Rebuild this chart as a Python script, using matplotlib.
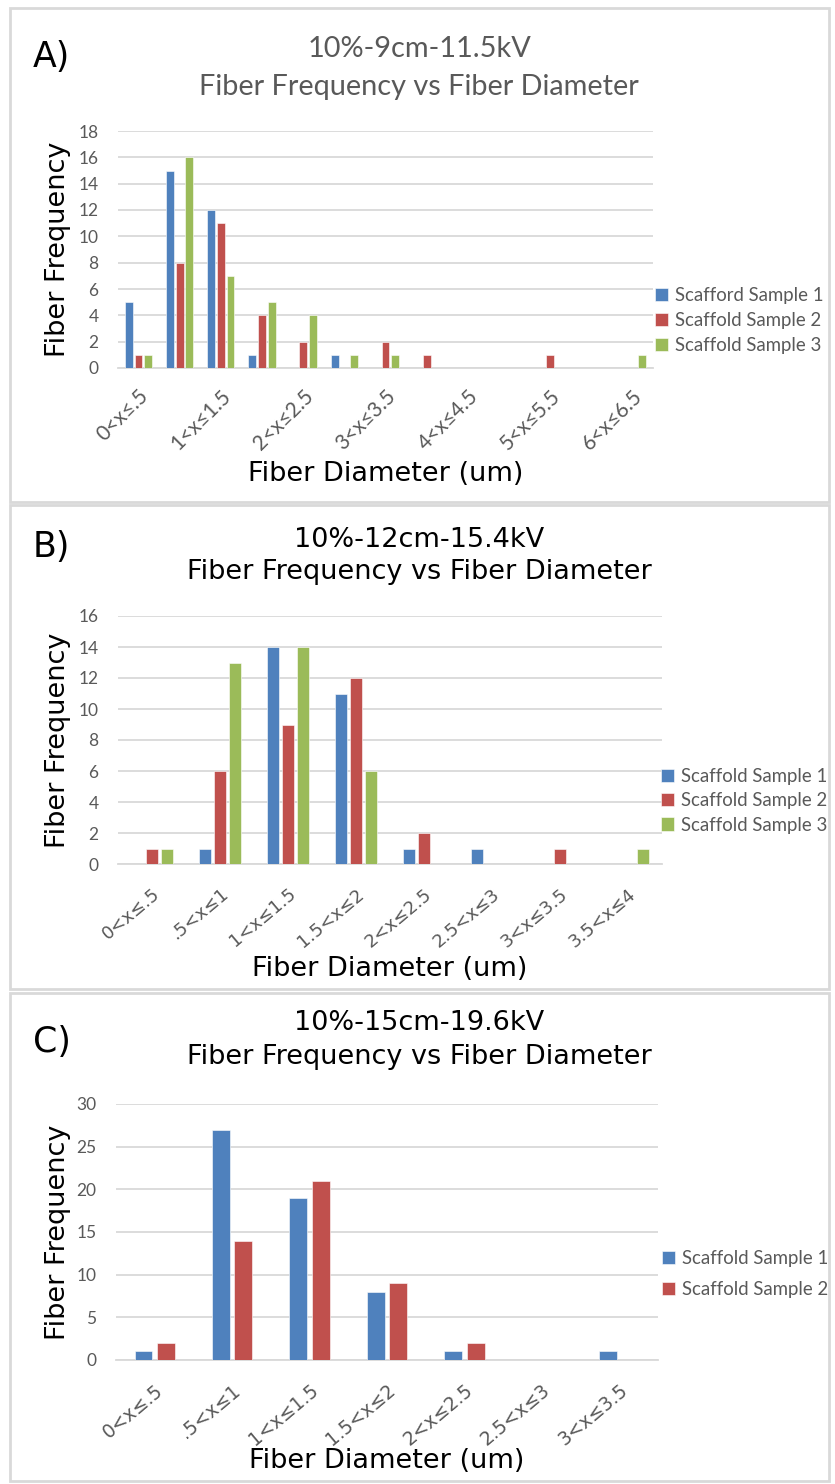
import matplotlib
matplotlib.use("Agg")
import matplotlib.pyplot as plt
from matplotlib.patches import Rectangle
import numpy as np

W, H = 835, 1484
DPI = 100

BLUE = "#4F81BD"
RED = "#C0504D"
GREEN = "#9BBB59"
GRID = "#D9D9D9"
TICK = "#595959"

# ---- Panel A: 10%-9cm-11.5kV ----
cats_a = ["0<x≤.5", ".5<x≤1", "1<x≤1.5", "1.5<x≤2", "2<x≤2.5", "2.5<x≤3",
          "3<x≤3.5", "3.5<x≤4", "4<x≤4.5", "4.5<x≤5", "5<x≤5.5", "5.5<x≤6",
          "6<x≤6.5"]
a_sample1 = [5, 15, 12, 1, 0, 1, 0, 0, 0, 0, 0, 0, 0]
a_sample2 = [1, 8, 11, 4, 2, 0, 2, 1, 0, 0, 1, 0, 0]
a_sample3 = [1, 16, 7, 5, 4, 1, 1, 0, 0, 0, 0, 0, 1]
a_labels = ["Scafford Sample 1", "Scaffold Sample 2", "Scaffold Sample 3"]

# ---- Panel B: 10%-12cm-15.4kV ----
cats_b = ["0<x≤.5", ".5<x≤1", "1<x≤1.5", "1.5<x≤2", "2<x≤2.5", "2.5<x≤3",
          "3<x≤3.5", "3.5<x≤4"]
b_sample1 = [0, 1, 14, 11, 1, 1, 0, 0]
b_sample2 = [1, 6, 9, 12, 2, 0, 1, 0]
b_sample3 = [1, 13, 14, 6, 0, 0, 0, 1]
b_labels = ["Scaffold Sample 1", "Scaffold Sample 2", "Scaffold Sample 3"]

# ---- Panel C: 10%-15cm-19.6kV ----
cats_c = ["0<x≤.5", ".5<x≤1", "1<x≤1.5", "1.5<x≤2", "2<x≤2.5", "2.5<x≤3",
          "3<x≤3.5"]
c_sample1 = [1, 27, 19, 8, 1, 0, 1]
c_sample2 = [2, 14, 21, 9, 2, 0, 0]
c_labels = ["Scaffold Sample 1", "Scaffold Sample 2"]

LATO = ["Lato", "DejaVu Sans"]
DEJAVU = ["DejaVu Sans"]

fig = plt.figure(figsize=(W / DPI, H / DPI), dpi=DPI)
fig.patch.set_facecolor("white")


def fx(px):
    return px / W


def fy(py):
    return 1 - py / H


def frame(x0, y0, x1, y1):
    fig.patches.append(Rectangle((fx(x0), fy(y1)), fx(x1) - fx(x0), fy(y0) - fy(y1),
                                 transform=fig.transFigure, fill=False,
                                 edgecolor=GRID, linewidth=2))


def panel(box, cats, series, colors, labels, ymax, ystep, bar_w, gap,
          tick_step, tick_font, tick_size, tick_rot, tick_pad,
          legend_xy, legend_spacing,
          letter, letter_y, title, title_y, title_color, title_font, title_size,
          xlabel_y, frame_box):
    x0, y0, x1, y1 = box
    ax = fig.add_axes([fx(x0), fy(y1), fx(x1) - fx(x0), fy(y0) - fy(y1)])
    n = len(cats)
    k = len(series)
    x = np.arange(n)
    for i, (vals, col, lab) in enumerate(zip(series, colors, labels)):
        off = (i - (k - 1) / 2) * (bar_w + gap)
        ax.bar(x + off, vals, width=bar_w, color=col, label=lab, zorder=3,
               edgecolor="white", linewidth=0.4)
    ax.set_xlim(-0.5, n - 0.5)
    ax.set_ylim(0, ymax)
    ax.set_yticks(np.arange(0, ymax + 0.1, ystep))
    ax.yaxis.grid(True, color=GRID, linewidth=1.3, zorder=0)
    ax.set_axisbelow(True)
    for s in ["top", "right", "left"]:
        ax.spines[s].set_visible(False)
    ax.spines["bottom"].set_color(GRID)
    ax.spines["bottom"].set_linewidth(1.3)
    ax.tick_params(axis="both", length=0)
    ax.tick_params(axis="y", pad=14)
    for t in ax.get_yticklabels():
        t.set_fontfamily(LATO)
        t.set_fontsize(12.5)
        t.set_color(TICK)
    ax.set_xticks(x[::tick_step])
    ax.set_xticklabels([cats[j] for j in range(0, n, tick_step)],
                       rotation=tick_rot, ha="right", rotation_mode="anchor",
                       fontsize=tick_size, color=TICK, family=tick_font)
    ax.tick_params(axis="x", pad=tick_pad)

    leg = ax.legend(loc="upper left", bbox_to_anchor=(fx(legend_xy[0]), fy(legend_xy[1])),
                    bbox_transform=fig.transFigure, frameon=False,
                    handlelength=0.7, handleheight=0.7, handletextpad=0.35,
                    labelspacing=legend_spacing, borderpad=0, borderaxespad=0,
                    prop={"family": LATO, "size": 13.4})
    for t in leg.get_texts():
        t.set_color(TICK)

    fig.text(fx(33), fy(letter_y), letter, fontsize=25, family=DEJAVU,
             color="black", ha="left", va="center")
    fig.text(fx(419), fy(title_y[0]), title[0], fontsize=title_size,
             family=title_font, color=title_color, ha="center", va="center")
    fig.text(fx(419), fy(title_y[1]), title[1], fontsize=title_size,
             family=title_font, color=title_color, ha="center", va="center")
    fig.text(fx(58), fy((y0 + y1) / 2), "Fiber Frequency", fontsize=19.5,
             family=DEJAVU, rotation=90, ha="center", va="center", color="black")
    fig.text(fx((x0 + x1) / 2), fy(xlabel_y), "Fiber Diameter (um)", fontsize=19.5,
             family=DEJAVU, ha="center", va="center", color="black")
    frame(*frame_box)
    return ax


panel((118, 131, 653, 368), cats_a, [a_sample1, a_sample2, a_sample3],
      [BLUE, RED, GREEN], a_labels, 18, 2, 0.19, 0.045, 2, LATO, 15, 45, 13,
      (655, 287), 0.42, "A)", 57,
      ("10%-9cm-11.5kV", "Fiber Frequency vs Fiber Diameter"), (49, 87),
      TICK, LATO, 20.8, 474, (10, 8, 829, 502))

panel((118, 616, 662, 864), cats_b, [b_sample1, b_sample2, b_sample3],
      [BLUE, RED, GREEN], b_labels, 16, 2, 0.18, 0.045, 1, DEJAVU, 13, 40, 15,
      (661, 768), 0.39, "B)", 547,
      ("10%-12cm-15.4kV", "Fiber Frequency vs Fiber Diameter"), (540, 572),
      "black", DEJAVU, 19.5, 969, (10, 505, 829, 989))

panel((116, 1104, 658, 1360), cats_c, [c_sample1, c_sample2],
      [BLUE, RED], c_labels, 30, 5, 0.23, 0.06, 1, DEJAVU, 13.5, 40, 15,
      (662, 1250), 0.75, "C)", 1042,
      ("10%-15cm-19.6kV", "Fiber Frequency vs Fiber Diameter"), (1023, 1057),
      "black", DEJAVU, 19.5, 1461, (10, 993, 829, 1481))

fig.savefig("out.png", dpi=DPI, facecolor="white")
